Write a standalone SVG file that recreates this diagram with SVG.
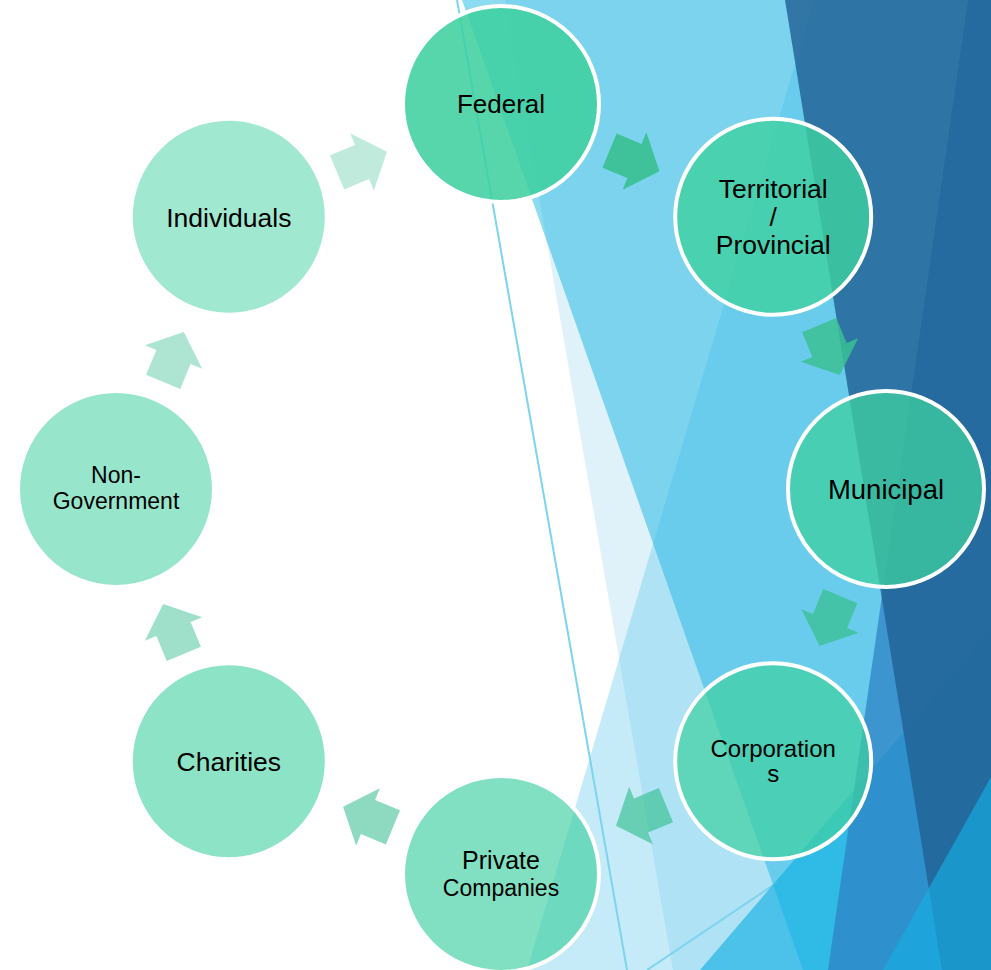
<svg xmlns="http://www.w3.org/2000/svg" xmlns:xlink="http://www.w3.org/1999/xlink" width="991" height="970" viewBox="0 0 991 970">
  <defs>
    <style>
      .facet { stroke: none; }
      .rule { stroke: #7dd3f0; stroke-width: 2; fill: none; }
      .node circle { fill: #3ed0a0; stroke: #ffffff; stroke-width: 4; }
      .label { font-family: "Liberation Sans", Arial, sans-serif; fill: #000000; text-anchor: middle; }
      .arrow { fill: #3ac092; }
    </style>
    <!-- fat block arrow pointing along +x, centred on the origin -->
    <polygon id="cycle-arrow" points="-27,-18.5 0,-18.5 0,-31 27,0 0,31 0,18.5 -27,18.5"/>
  </defs>

  <!-- page -->
  <rect x="0" y="0" width="991" height="970" fill="#ffffff"/>

  <!-- faceted background on the right -->
  <g id="background">
    <polygon class="facet" points="462,0 991,0 991,970 803,970" fill="#8cdbf1"/>
    <polygon class="facet" points="505,0 991,0 991,970 673,970" fill="#1ea0dc" fill-opacity="0.142"/>
    <polygon class="facet" points="814,0 991,0 991,970 527,970" fill="#3ebce7" fill-opacity="0.3"/>
    <line class="rule" x1="457" y1="0" x2="627" y2="970"/>
    <line class="rule" x1="647" y1="970" x2="778" y2="882"/>
    <polygon class="facet" points="700,970 991,630 991,970" fill="#0aade3" fill-opacity="0.6"/>
    <polygon class="facet" points="968,0 991,0 991,970 828,970" fill="#2e83c5" fill-opacity="0.75"/>
    <polygon class="facet" points="785,0 991,0 991,970 942,970" fill="#216295" fill-opacity="0.82"/>
    <polygon class="facet" points="883,970 991,777 991,970" fill="#16acdf" fill-opacity="0.67"/>
  </g>

  <!-- cycle arrows between the nodes -->
  <g id="connectors">
    <use xlink:href="#cycle-arrow" href="#cycle-arrow" class="arrow" fill-opacity="0.93" transform="translate(634.5,161) rotate(22.5)"/>
    <use xlink:href="#cycle-arrow" href="#cycle-arrow" class="arrow" fill-opacity="0.84" transform="translate(829.5,350) rotate(67.5)"/>
    <use xlink:href="#cycle-arrow" href="#cycle-arrow" class="arrow" fill-opacity="0.75" transform="translate(830,621) rotate(112.5)"/>
    <use xlink:href="#cycle-arrow" href="#cycle-arrow" class="arrow" fill-opacity="0.67" transform="translate(641,815.5) rotate(157.5)"/>
    <use xlink:href="#cycle-arrow" href="#cycle-arrow" class="arrow" fill-opacity="0.58" transform="translate(368,817) rotate(202.5)"/>
    <use xlink:href="#cycle-arrow" href="#cycle-arrow" class="arrow" fill-opacity="0.49" transform="translate(173.5,629) rotate(247.5)"/>
    <use xlink:href="#cycle-arrow" href="#cycle-arrow" class="arrow" fill-opacity="0.41" transform="translate(173.5,357) rotate(292.5)"/>
    <use xlink:href="#cycle-arrow" href="#cycle-arrow" class="arrow" fill-opacity="0.32" transform="translate(362,162) rotate(337.5)"/>
  </g>

  <!-- nodes -->
  <g id="federal" class="node">
    <circle cx="501" cy="104" r="98" fill-opacity="0.87"/>
    <text class="label" x="501" y="113" font-size="26">Federal</text>
  </g>
  <g id="territorial" class="node">
    <circle cx="773.2" cy="216.8" r="98" fill-opacity="0.815"/>
    <text class="label" x="773.2" y="198" font-size="26.5">Territorial</text>
    <text class="label" x="773.2" y="226" font-size="26.5">/</text>
    <text class="label" x="773.2" y="254" font-size="26.5">Provincial</text>
  </g>
  <g id="municipal" class="node">
    <circle cx="886" cy="489" r="98" fill-opacity="0.76"/>
    <text class="label" x="886" y="499" font-size="27.5">Municipal</text>
  </g>
  <g id="corporations" class="node">
    <circle cx="773.2" cy="761.2" r="98" fill-opacity="0.705"/>
    <text class="label" x="773.2" y="757" font-size="24">Corporation</text>
    <text class="label" x="773.2" y="782" font-size="24">s</text>
  </g>
  <g id="private-companies" class="node">
    <circle cx="501" cy="874" r="98" fill-opacity="0.65"/>
    <text class="label" x="501" y="869" font-size="25">Private</text>
    <text class="label" x="501" y="896" font-size="23">Companies</text>
  </g>
  <g id="charities" class="node">
    <circle cx="228.8" cy="761.2" r="98" fill-opacity="0.595"/>
    <text class="label" x="228.8" y="771" font-size="26.5">Charities</text>
  </g>
  <g id="non-government" class="node">
    <circle cx="116" cy="489" r="98" fill-opacity="0.54"/>
    <text class="label" x="116" y="483" font-size="23">Non-</text>
    <text class="label" x="116" y="509" font-size="23">Government</text>
  </g>
  <g id="individuals" class="node">
    <circle cx="228.8" cy="216.8" r="98" fill-opacity="0.485"/>
    <text class="label" x="228.8" y="227" font-size="26.5">Individuals</text>
  </g>
</svg>
